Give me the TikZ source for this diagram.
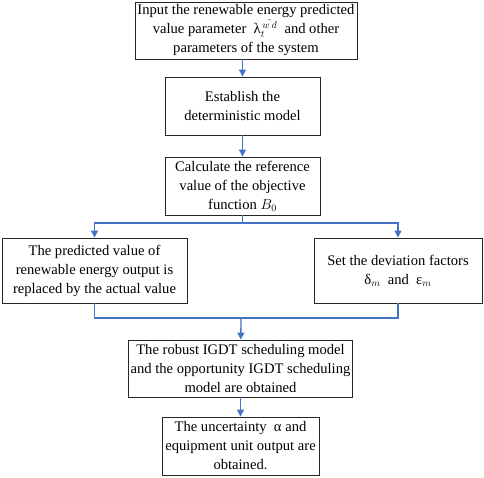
\documentclass[tikz,border=0pt]{standalone}
\usepackage{fontspec}
\setmainfont{Liberation Serif}
\usetikzlibrary{arrows.meta}
\definecolor{lineblue}{RGB}{68,114,196}
\tikzset{
    mybox/.style = {rectangle, line width=0.9pt, draw=black!85, align=center, inner sep=2pt, font=\fontsize{14.6}{19}\selectfont, text=black},
    edgeb/.style = {-, line width=1.3pt, lineblue},
    arrowb/.style = {-{Triangle[length=7pt,width=7pt]}, line width=1.3pt, lineblue}
}

\begin{document}
\begin{tikzpicture}[x=1pt,y=-1pt]
\path[use as bounding box] (0,0) rectangle (484,477);
\node[mybox, minimum width=222pt, minimum height=57pt] at (246,30.5) (input) {Input the renewable energy predicted\\value parameter \ λ$_t^{\,\tilde{w\,d}}$ \ and other\\parameters of the system};
\node[mybox, minimum width=155pt, minimum height=58pt] at (242.5,106) (model) {Establish the\\deterministic model};
\node[mybox, minimum width=155pt, minimum height=58pt] at (242.5,186) (ref) {Calculate the reference\\value of the objective\\function $B_0$};
\node[mybox, minimum width=185pt, minimum height=65pt] at (94.5,270.5) (actual) {The predicted value of\\renewable energy output is\\replaced by the actual value};
\node[mybox, minimum width=168pt, minimum height=65pt] at (398,270.5) (dev) {Set the deviation factors\\δ$_m$ \ and \ ε$_m$};
\node[mybox, minimum width=216pt, minimum height=57pt] at (240.5,368.5) (igdt) {The robust IGDT scheduling model\\and the opportunity IGDT scheduling\\model are obtained};
\node[mybox, minimum width=157pt, minimum height=58pt] at (240.5,446) (out) {The uncertainty \ α and\\equipment unit output are\\obtained.};
%
\coordinate (split) at (242.5,223);
\coordinate (join) at (241,318);
%
\draw[arrowb] (model.north |- input.south) -- (model);
\draw[arrowb] (model) -- (ref);
\draw[edgeb] (ref) -- (split);
\draw[arrowb] (split) -| (actual);
\draw[arrowb] (split) -| (dev);
\draw[edgeb] (actual) |- (join) -| (dev);
\draw[arrowb] (join) -- (igdt);
\draw[arrowb] (igdt) -- (out);
\end{tikzpicture}
\end{document}
